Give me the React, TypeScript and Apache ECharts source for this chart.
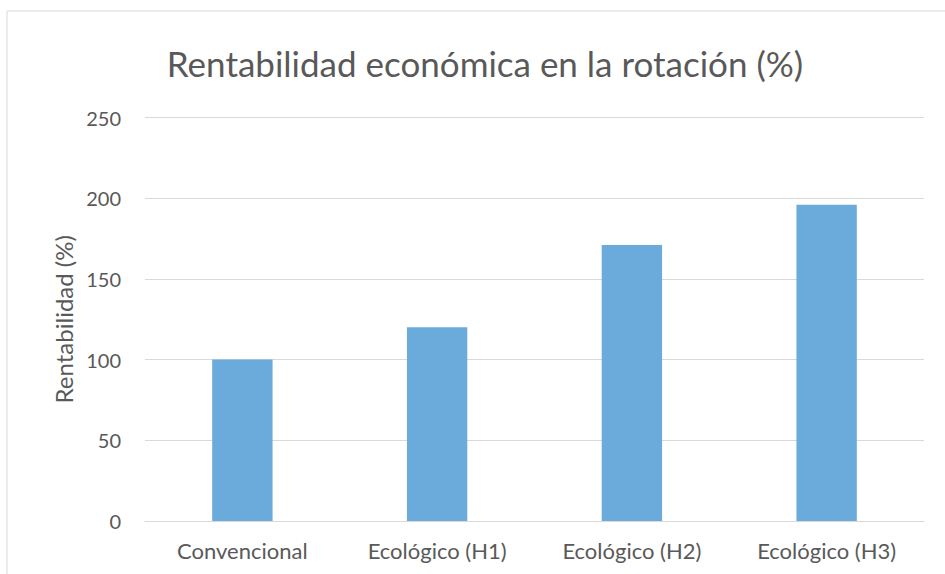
import React, { useEffect, useRef } from "react";
import * as echarts from "echarts";

const categories = ["Convencional", "Ecológico (H1)", "Ecológico (H2)", "Ecológico (H3)"];
const values = [100, 120, 171, 196];
const titleText = "Rentabilidad económica en la rotación (%)";
const yAxisName = "Rentabilidad (%)";

export default function App() {
  const ref = useRef<HTMLDivElement>(null);
  useEffect(() => {
    if (!ref.current) return;
    const chart = echarts.init(ref.current, null, { renderer: "svg" });
    const font = "Lato, 'Open Sans', sans-serif";
    chart.setOption({
      animation: false,
      backgroundColor: "#ffffff",
      title: {
        text: titleText,
        left: 480,
        textAlign: "center",
        top: 40,
        textStyle: { fontFamily: font, fontSize: 35, fontWeight: "normal", color: "#595959" },
      },
      graphic: [
        {
          type: "rect",
          shape: { x: 7, y: 11, width: 1000, height: 700 },
          style: { fill: "none", stroke: "#d9d9d9", lineWidth: 1 },
          silent: true,
        },
      ],
      grid: { left: 145, right: 21, top: 117.5, bottom: 53, containLabel: false },
      xAxis: {
        type: "category",
        data: categories,
        axisLine: { show: true, lineStyle: { color: "#d9d9d9", width: 1 } },
        axisTick: { show: false },
        axisLabel: { fontFamily: font, fontSize: 22, color: "#595959", margin: 18 },
      },
      yAxis: {
        type: "value",
        min: 0,
        max: 250,
        interval: 50,
        name: yAxisName,
        nameLocation: "middle",
        nameGap: 70,
        nameTextStyle: { fontFamily: font, fontSize: 24, color: "#595959" },
        axisLine: { show: false },
        axisTick: { show: false },
        axisLabel: { fontFamily: font, fontSize: 20, color: "#595959", margin: 24 },
        splitLine: { lineStyle: { color: "#d9d9d9", width: 1 } },
      },
      series: [
        {
          type: "bar",
          data: values,
          barWidth: "31%",
          itemStyle: { color: "#6aabdc" },
        },
      ],
    });
    return () => chart.dispose();
  }, []);
  return (
    <div
      ref={ref}
      style={{ position: "fixed", left: 0, top: 0, width: 945, height: 574 }}
    />
  );
}
